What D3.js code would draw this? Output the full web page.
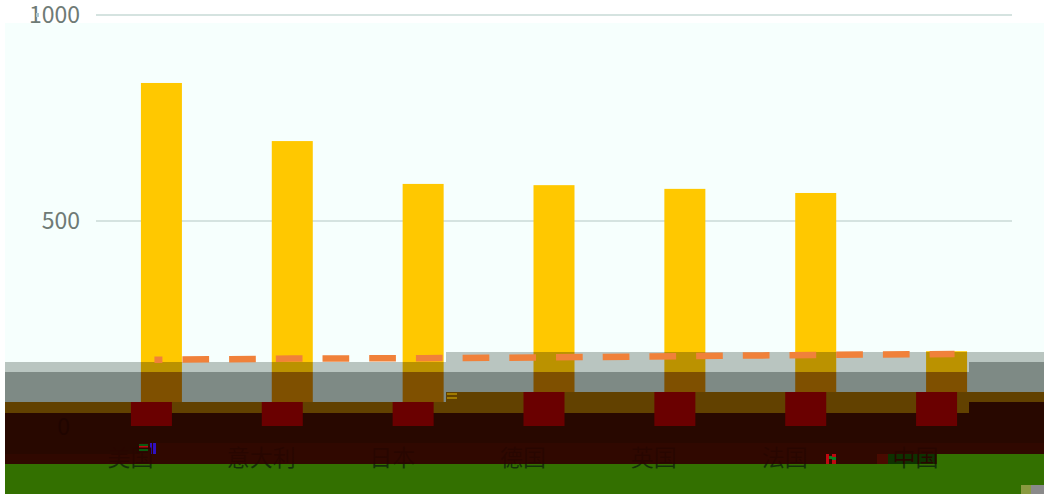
<!DOCTYPE html>
<html>
<head>
<meta charset="utf-8">
<script src="https://d3js.org/d3.v7.min.js"></script>
<style>
html, body { margin: 0; padding: 0; background: #fff; }
svg { display: block; }
text { font-family: "Noto Sans CJK SC", sans-serif; }
</style>
</head>
<body>
<script>
// data
var categories = ["美国", "意大利", "日本", "德国", "英国", "法国", "中国"];
var barValues = [835, 694, 590, 587, 578, 568, 184];
var lineValues = [163, 166, 167, 169, 172, 175, 177];
var yTicks = [0, 500, 1000];

var width = 1044, height = 494;
var plot = { left: 96, right: 1012, top: 15, bottom: 427 };

var svg = d3.select("body").append("svg")
    .attr("width", width)
    .attr("height", height);

var x = d3.scaleBand().domain(categories)
    .range([plot.left, plot.right])
    .paddingInner(0.6867).paddingOuter(0.3433);
var y = d3.scaleLinear().domain([0, 1000]).range([plot.bottom, plot.top]);
var xc = function(d) { return x(d) + x.bandwidth() / 2; };

// the picture is corrupted, the strips below are drawn over the plot
// columns of the strips: [x0, x1, [[y0, y1, colour], ...]]
var strips = [
    [5, 140, [[362, 372, "#b9c5c0"], [372, 402, "#7e8a85"], [402, 413, "#624100"], [413, 454, "#280800"], [454, 464, "#300800"], [464, 494, "#337000"]]],
    [140, 446, [[362, 372, "#b9c5c0"], [372, 402, "#7e8a85"], [402, 413, "#624100"], [413, 443, "#280800"], [443, 464, "#300800"], [464, 494, "#337000"]]],
    [446, 937, [[352, 372, "#b9c5c0"], [372, 392, "#7e8a85"], [392, 413, "#624100"], [413, 443, "#280800"], [443, 464, "#300800"], [464, 494, "#337000"]]],
    [937, 969, [[352, 372, "#b9c5c0"], [372, 392, "#7e8a85"], [392, 413, "#624100"], [413, 443, "#280800"], [443, 454, "#300800"], [454, 494, "#337000"]]],
    [969, 1044, [[352, 362, "#b9c5c0"], [362, 392, "#7e8a85"], [392, 402, "#624100"], [402, 443, "#280800"], [443, 454, "#300800"], [454, 494, "#337000"]]]
];
// small broken pieces: [x, y, w, h, colour]
var specks = [
    [139, 444, 9, 2, "#0a5a10"], [139, 446, 9, 3, "#c00810"], [139, 449, 9, 2, "#0a5a10"],
    [150, 443, 2, 11, "#3010c0"], [153, 443, 3, 11, "#3010c0"],
    [447, 393, 10, 2, "#a07a00"], [447, 397, 10, 2, "#a07a00"],
    [826, 454, 3, 10, "#c00810"], [829, 456, 3, 3, "#0a8020"], [832, 454, 4, 10, "#c00810"], [832, 457, 4, 3, "#0a8020"],
    [877, 454, 11, 10, "#4a0a00"], [888, 454, 49, 10, "#0e3200"],
    [1021, 485, 10, 9, "#8a9a40"], [1031, 485, 13, 9, "#8a8a8a"],
    [36, 13, 3, 4, "#a8c8d8"]
];

// background
svg.append("rect").attr("x", 5).attr("y", 23).attr("width", width - 5).attr("height", height - 23).attr("fill", "#f6fffd");

// grid
svg.append("g").selectAll("line")
    .data(yTicks)
    .enter().append("line")
    .attr("x1", plot.left).attr("x2", plot.right)
    .attr("y1", function(d) { return y(d); })
    .attr("y2", function(d) { return y(d); })
    .attr("stroke", "#d5e3e0").attr("stroke-width", 2);

// strips
strips.forEach(function(s) {
    svg.append("g").selectAll("rect")
        .data(s[2])
        .enter().append("rect")
        .attr("x", s[0]).attr("width", s[1] - s[0])
        .attr("y", function(d) { return d[0]; })
        .attr("height", function(d) { return d[1] - d[0]; })
        .attr("fill", function(d) { return d[2]; });
});

// y axis, the zero label sits inside the strips and is shifted
var yAxis = svg.append("g")
    .attr("transform", "translate(" + plot.left + ",0)")
    .call(d3.axisLeft(y).tickValues(yTicks).tickSize(0).tickPadding(16).tickFormat(d3.format("d")));
yAxis.select(".domain").remove();
yAxis.selectAll("text")
    .attr("font-size", 23)
    .style("font-family", '"Noto Sans CJK SC", sans-serif')
    .attr("fill", function(d) { return d === 0 ? "#200500" : "#6e7a75"; })
    .attr("dx", function(d) { return d === 0 ? -10 : 0; });

// bars, one pass per colour, cut to a part of the picture
var defs = svg.append("defs");
function barSlice(name, x0, x1, y0, y1, colour, dx) {
    defs.append("clipPath").attr("id", name).append("rect")
        .attr("x", x0).attr("y", y0).attr("width", x1 - x0).attr("height", y1 - y0);
    svg.append("g").attr("clip-path", "url(#" + name + ")")
        .selectAll("rect")
        .data(categories)
        .enter().append("rect")
        .attr("x", function(d) { return x(d) + dx; })
        .attr("y", function(d, i) { return y(barValues[i]); })
        .attr("width", x.bandwidth())
        .attr("height", function(d, i) { return plot.bottom - y(barValues[i]); })
        .attr("fill", colour);
}
barSlice("l1", 5, 446, 0, 362, "#ffc800", 0);
barSlice("l2", 5, 446, 362, 372, "#bb9200", 0);
barSlice("l3", 5, 446, 372, 402, "#7f5000", 0);
barSlice("l4", 5, 446, 402, 426, "#6a0000", -10);
barSlice("r1", 446, 1044, 0, 352, "#ffc800", 0);
barSlice("r2", 446, 1044, 352, 372, "#bb9200", 0);
barSlice("r3", 446, 1044, 372, 392, "#7f5000", 0);
barSlice("r4", 446, 1044, 392, 426, "#6a0000", -10);

// dashed line
var line = d3.line()
    .x(function(d, i) { return xc(categories[i]) + (i === 0 ? -7 : i === categories.length - 1 ? 8 : 0); })
    .y(function(d) { return y(d); });
svg.append("path")
    .datum(lineValues)
    .attr("d", line)
    .attr("fill", "none")
    .attr("stroke", "#f0813a")
    .attr("stroke-width", 6.5)
    .attr("stroke-dasharray", "26.7,20")
    .attr("stroke-dashoffset", 18.7);

// broken pieces
svg.append("g").selectAll("rect")
    .data(specks)
    .enter().append("rect")
    .attr("x", function(d) { return d[0]; })
    .attr("y", function(d) { return d[1]; })
    .attr("width", function(d) { return d[2]; })
    .attr("height", function(d) { return d[3]; })
    .attr("fill", function(d) { return d[4]; });

// category labels, also shifted. nearly lost in the dark strip, only the foot shows on the green
var grad = defs.append("linearGradient").attr("id", "labelFill")
    .attr("gradientUnits", "userSpaceOnUse")
    .attr("x1", 0).attr("x2", 0).attr("y1", 440).attr("y2", 480);
grad.append("stop").attr("offset", 0.6).attr("stop-color", "#280600");
grad.append("stop").attr("offset", 0.6).attr("stop-color", "#15300a");

svg.append("g").selectAll("text")
    .data(categories)
    .enter().append("text")
    .attr("x", function(d) { return xc(d) - 31; })
    .attr("y", 466)
    .attr("text-anchor", "middle")
    .attr("font-size", 23)
    .attr("fill", "url(#labelFill)")
    .text(function(d) { return d; });
</script>
</body>
</html>
